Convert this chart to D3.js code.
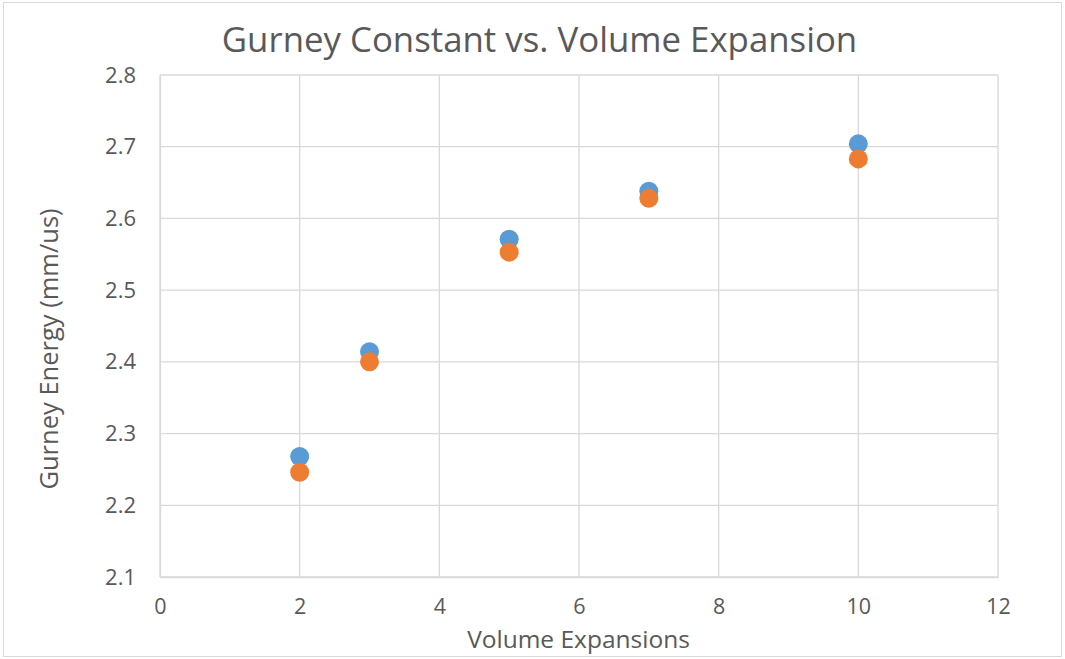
<!DOCTYPE html>
<html><head><meta charset="utf-8">
<script src="https://cdn.jsdelivr.net/npm/d3@7"></script>
<style>body{margin:0;background:#fff;} svg{display:block;}</style>
</head><body>
<script>
const xValues = [2, 3, 5, 7, 10];
const series1 = [2.268, 2.414, 2.571, 2.638, 2.704];
const series2 = [2.246, 2.400, 2.553, 2.628, 2.683];
const xTicks = [0, 2, 4, 6, 8, 10, 12];
const yTicks = [2.1, 2.2, 2.3, 2.4, 2.5, 2.6, 2.7, 2.8];
const title = "Gurney Constant vs. Volume Expansion";
const xTitle = "Volume Expansions";
const yTitle = "Gurney Energy (mm/us)";

const W = 1065, H = 659;
const m = {left:160, top:75, right:W-998, bottom:H-577};
const svg = d3.select("body").append("svg").attr("width", W).attr("height", H);
const font = "'Open Sans', 'Liberation Sans', sans-serif";

svg.append("rect").attr("x",3.5).attr("y",2.5).attr("width",W-7).attr("height",H-5)
  .attr("fill","#fff").attr("stroke","#d9d9d9").attr("stroke-width",1);

const x = d3.scaleLinear().domain([0,12]).range([m.left, W-m.right]);
const y = d3.scaleLinear().domain([2.1,2.8]).range([H-m.bottom, m.top]);

const g = svg.append("g");
g.selectAll(".hg").data(yTicks).join("line")
  .attr("x1", x(0)).attr("x2", x(12)).attr("y1", d=>y(d)).attr("y2", d=>y(d))
  .attr("stroke","#d9d9d9").attr("stroke-width",1.3);
g.selectAll(".vg").data(xTicks).join("line")
  .attr("y1", y(2.1)).attr("y2", y(2.8)).attr("x1", d=>x(d)).attr("x2", d=>x(d))
  .attr("stroke","#d9d9d9").attr("stroke-width",1.3);

const xAxis = svg.append("g").attr("transform",`translate(0,${y(2.1)})`)
  .call(d3.axisBottom(x).tickValues(xTicks).tickSize(0).tickPadding(22).tickFormat(d3.format("d")));
xAxis.select(".domain").attr("stroke","#d9d9d9").attr("stroke-width",1.3);
xAxis.selectAll("text").attr("font-family",font).attr("font-size",21.5).attr("fill","#595959");

const yAxis = svg.append("g").attr("transform",`translate(${x(0)},0)`)
  .call(d3.axisLeft(y).tickValues(yTicks).tickSize(0).tickPadding(24).tickFormat(d3.format(".1f")));
yAxis.select(".domain").attr("stroke","#d9d9d9").attr("stroke-width",1.3);
yAxis.selectAll("text").attr("font-family",font).attr("font-size",22).attr("fill","#595959");

const pts = svg.append("g");
pts.selectAll(".s1").data(xValues).join("circle")
  .attr("cx", d=>x(d)).attr("cy", (d,i)=>y(series1[i])).attr("r",9.5).attr("fill","#5b9bd5");
pts.selectAll(".s2").data(xValues).join("circle")
  .attr("cx", d=>x(d)).attr("cy", (d,i)=>y(series2[i])).attr("r",9.5).attr("fill","#ed7d31");

svg.append("text").attr("x", 539.5).attr("y", 52).attr("text-anchor","middle")
  .attr("font-family",font).attr("font-size",34.8).attr("fill","#595959").text(title);
svg.append("text").attr("x", 578.5).attr("y", 648).attr("text-anchor","middle")
  .attr("font-family",font).attr("font-size",24.5).attr("fill","#595959").text(xTitle);
svg.append("text").attr("transform",`translate(58,349) rotate(-90)`).attr("text-anchor","middle")
  .attr("font-family",font).attr("font-size",25.5).attr("fill","#595959").text(yTitle);
</script>
</body></html>
